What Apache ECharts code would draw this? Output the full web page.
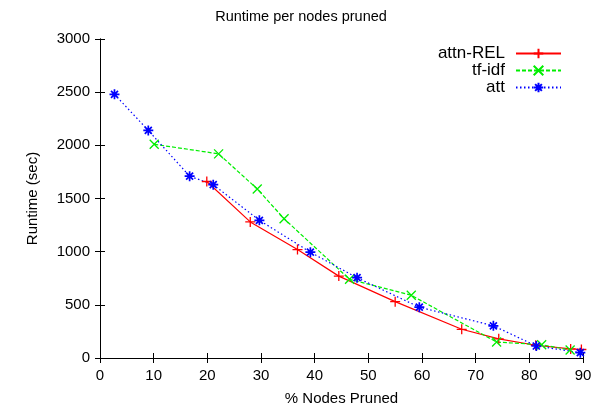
<!DOCTYPE html>
<html>
<head>
<meta charset="utf-8">
<script src="https://cdn.jsdelivr.net/npm/echarts@6/dist/echarts.min.js"></script>
<style>html,body{margin:0;padding:0;background:#fff}#c{width:602px;height:412px}</style>
</head>
<body>
<div id="c"></div>
<script>
const attnX = [19.9, 28.0, 36.8, 44.5, 55.0, 67.4, 74.3, 81.2, 87.7, 89.7];
const attnY = [1660, 1280, 1020, 770, 530, 270, 180, 120, 85, 80];
const tfX = [10.1, 22.1, 29.3, 34.3, 46.5, 58.0, 73.9, 82.3, 87.6];
const tfY = [2010, 1920, 1590, 1310, 740, 590, 150, 125, 75];
const attX = [2.7, 9.0, 16.7, 21.1, 29.7, 39.2, 47.9, 59.5, 73.3, 81.3, 89.5];
const attY = [2480, 2140, 1710, 1630, 1295, 995, 755, 478, 303, 113, 50];
const names = ['attn-REL', 'tf-idf', 'att'];
const xTicks = [0, 10, 20, 30, 40, 50, 60, 70, 80, 90];
const yTicks = [0, 500, 1000, 1500, 2000, 2500, 3000];

const FONT = 'Liberation Sans';
const zip = (xs, ys) => xs.map((x, i) => [x, ys[i]]);
const plusP = 'path://M5,0L5,10M0,5L10,5';
const crossP = 'path://M0,0L10,10M10,0L0,10';
const starP = 'path://M5,0L5,10M0,5L10,5M1.5,1.5L8.5,8.5M8.5,1.5L1.5,8.5';

function mkSeries(name, data, color, symbol, size, ltype, bw) {
  return {
    name, type: 'line', data, symbol, symbolSize: size,
    xAxisIndex: 0, yAxisIndex: 0,
    showSymbol: true, animation: false,
    lineStyle: { color, width: 1.2, type: ltype },
    itemStyle: { color: 'rgba(0,0,0,0)', borderColor: color, borderWidth: bw },
    emphasis: { disabled: true }
  };
}
function mkLegend(name, top) {
  return {
    data: [name], right: 40, top, padding: 0, align: 'right',
    itemWidth: 45, itemHeight: 12,
    textStyle: { fontFamily: FONT, fontSize: 17, color: '#000', padding: [0, 6, 0, 0] },
    selectedMode: false
  };
}
const axisCommon = {
  type: 'value',
  axisLine: { show: true, lineStyle: { color: '#000', width: 1 } },
  axisTick: { show: true, inside: true, length: 5, lineStyle: { color: '#000' } },
  splitLine: { show: false },
  nameTextStyle: { fontFamily: FONT, fontSize: 15, color: '#000' }
};
const chart = echarts.init(document.getElementById('c'));
chart.setOption({
  animation: false,
  backgroundColor: '#fff',
  title: { text: 'Runtime per nodes pruned', left: 'center', top: 4,
    textStyle: { fontFamily: FONT, fontSize: 14.5, fontWeight: 'normal', color: '#000' } },
  grid: { left: 100, right: 19, top: 39, bottom: 54 },
  legend: [mkLegend(names[0], 45), mkLegend(names[1], 62), mkLegend(names[2], 79)],
  xAxis: [
    Object.assign({}, axisCommon, { min: xTicks[0], max: xTicks[xTicks.length - 1], interval: 10,
      name: '% Nodes Pruned', nameLocation: 'middle', nameGap: 33,
      axisLabel: { fontFamily: FONT, fontSize: 15, color: '#000', margin: 10 } }),
    Object.assign({}, axisCommon, { position: 'top', min: xTicks[0], max: xTicks[xTicks.length - 1], interval: 10,
      axisLabel: { show: false } })
  ],
  yAxis: [
    Object.assign({}, axisCommon, { min: yTicks[0], max: yTicks[yTicks.length - 1], interval: 500,
      name: 'Runtime (sec)', nameLocation: 'middle', nameGap: 60,
      axisLabel: { fontFamily: FONT, fontSize: 15, color: '#000', margin: 10, formatter: v => String(v) } }),
    Object.assign({}, axisCommon, { position: 'right', min: yTicks[0], max: yTicks[yTicks.length - 1], interval: 500,
      axisLabel: { show: false } })
  ],
  series: [
    mkSeries(names[0], zip(attnX, attnY), '#ff0000', plusP, 10, 'solid', 1.3),
    mkSeries(names[1], zip(tfX, tfY), '#00ee00', crossP, 9, [4, 2], 1.3),
    mkSeries(names[2], zip(attX, attY), '#0000ff', starP, 10, [1.5, 2.5], 1.7)
  ]
});
</script>
</body>
</html>
